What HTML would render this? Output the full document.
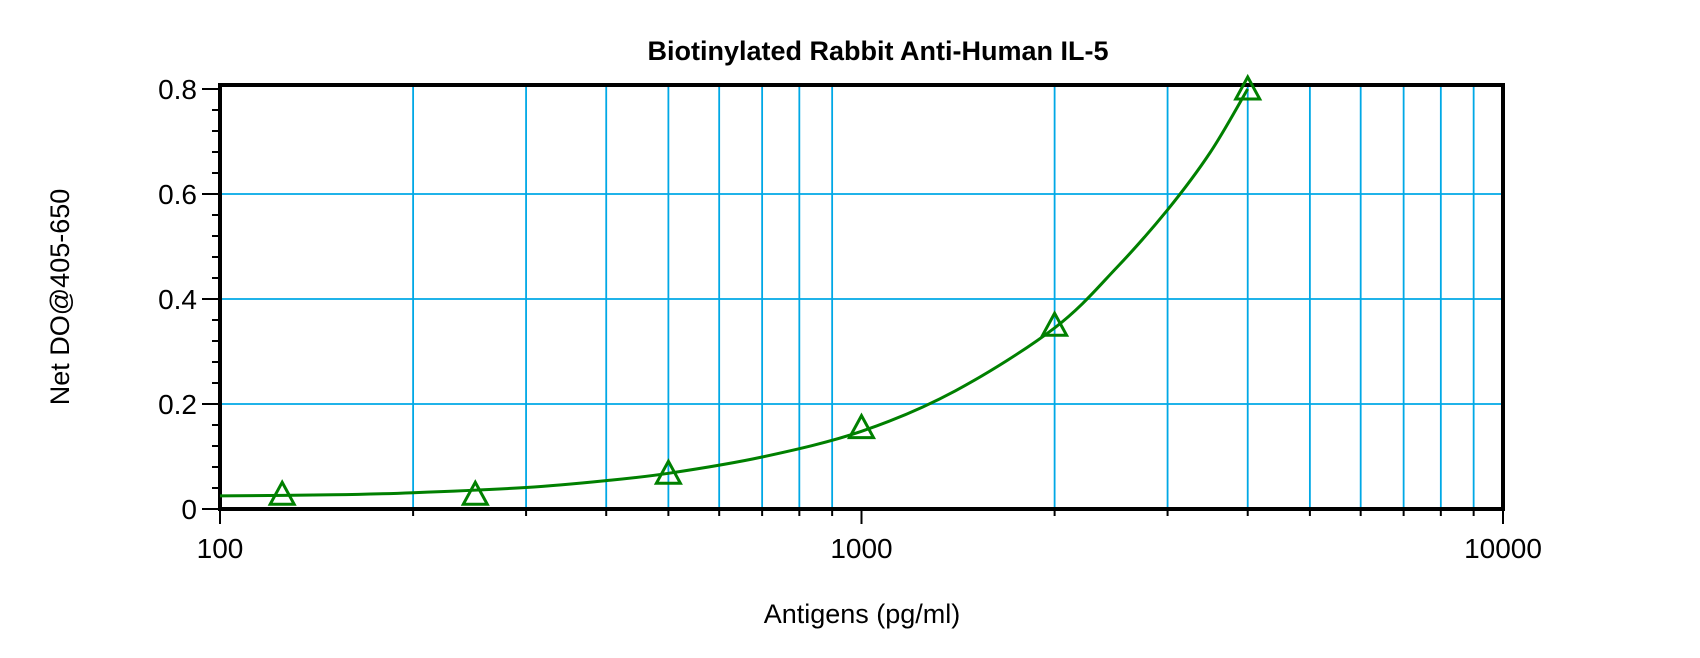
<!DOCTYPE html>
<html><head><meta charset="utf-8"><style>
html,body{margin:0;padding:0;background:#fff;}
svg{display:block;font-family:"Liberation Sans",Arial,sans-serif;}
</style></head><body>
<svg id="chart" width="1700" height="658" viewBox="0 0 1700 658">
<text x="878" y="60" text-anchor="middle" font-size="27" font-weight="bold">Biotinylated Rabbit Anti-Human IL-5</text>
<text x="862" y="623" text-anchor="middle" font-size="27">Antigens (pg/ml)</text>
<text transform="translate(69,297) rotate(-90)" text-anchor="middle" font-size="27">Net DO@405-650</text>
<g id="grid"></g><g id="axes"></g><g id="series"></g>
</svg>
<script>
const xTicks=[100,1000,10000];
const xTickLabels=["100","1000","10000"];
const yTicks=[0,0.2,0.4,0.6,0.8];
const yTickLabels=["0","0.2","0.4","0.6","0.8"];
const pointX=[125,250,500,1000,2000,4000];
const pointY=[0.028,0.028,0.068,0.155,0.35,0.80];
const curveX=[100,150,200,300,400,500,700,1000,1400,2000,2500,3000,3500,4000];
const curveY=[0.025,0.027,0.031,0.041,0.054,0.068,0.099,0.148,0.225,0.345,0.46,0.57,0.68,0.80];

const L=220,R=1503,T=85,B=509;
const X=v=>L+(Math.log10(v)-2)/2*(R-L);
const Y=v=>B-v/0.8*(B-89);
const NS="http://www.w3.org/2000/svg";
function mk(tag,parent,attrs){const e=document.createElementNS(NS,tag);for(const k in attrs)e.setAttribute(k,attrs[k]);parent.appendChild(e);return e;}
const grid=document.getElementById('grid'),axes=document.getElementById('axes'),ser=document.getElementById('series');
for(let d=100;d<10000;d*=10){for(let m=1;m<10;m++){const v=d*m;const x=X(v);
 if(m>1){const g=mk('line',grid,{x1:x,x2:x,y1:T,y2:B,stroke:'#00a8e6','stroke-width':1.8});
 
 }
 const t=mk('line',axes,{x1:x,x2:x,y1:B,y2:B+(m==1?15:7),stroke:'#000','stroke-width':2});
 
 }}
{const t=mk('line',axes,{x1:R,x2:R,y1:B,y2:B+15,stroke:'#000','stroke-width':2});}
for(let i=0;i<=20;i++){const v=i*0.04;const y=Y(v);const major=(i%5==0);
 if(major&&v>0&&v<0.79){const g=mk('line',grid,{x1:L,x2:R,y1:y,y2:y,stroke:'#00a8e6','stroke-width':1.8});
 
 }
 const t=mk('line',axes,{x1:L-(major?18:8),x2:L,y1:y,y2:y,stroke:'#000','stroke-width':2});
 
 }
xTicks.forEach((v,i)=>{const t=mk('text',axes,{x:X(v),y:B+49,'text-anchor':'middle','font-size':28});t.textContent=xTickLabels[i];
 
 });
yTicks.forEach((v,i)=>{const t=mk('text',axes,{x:L-23,y:Y(v)+10,'text-anchor':'end','font-size':28});t.textContent=yTickLabels[i];
 
 });
const frame=mk('rect',axes,{x:L,y:T,width:R-L,height:B-T,fill:'none',stroke:'#000','stroke-width':4});


// smooth curve (Catmull-Rom through read points)
const P=curveX.map((v,i)=>[X(v),Y(curveY[i])]);
let d='M'+P[0][0].toFixed(1)+','+P[0][1].toFixed(1);
for(let i=0;i<P.length-1;i++){const p0=P[Math.max(0,i-1)],p1=P[i],p2=P[i+1],p3=P[Math.min(P.length-1,i+2)];
 const c1=[p1[0]+(p2[0]-p0[0])/6,p1[1]+(p2[1]-p0[1])/6],c2=[p2[0]-(p3[0]-p1[0])/6,p2[1]-(p3[1]-p1[1])/6];
 d+=`C${c1[0].toFixed(1)},${c1[1].toFixed(1)} ${c2[0].toFixed(1)},${c2[1].toFixed(1)} ${p2[0].toFixed(1)},${p2[1].toFixed(1)}`;}
const c=mk('path',ser,{d:d,fill:'none',stroke:'#008000','stroke-width':3,'stroke-linejoin':'round'});


pointX.forEach((v,i)=>{const x=X(v),y=Y(pointY[i]);
 const p=mk('polygon',ser,{points:`${x},${y-12} ${x-12},${y+10} ${x+12},${y+10}`,fill:'none',stroke:'#008000','stroke-width':3});
 
 });
</script>
</body></html>
